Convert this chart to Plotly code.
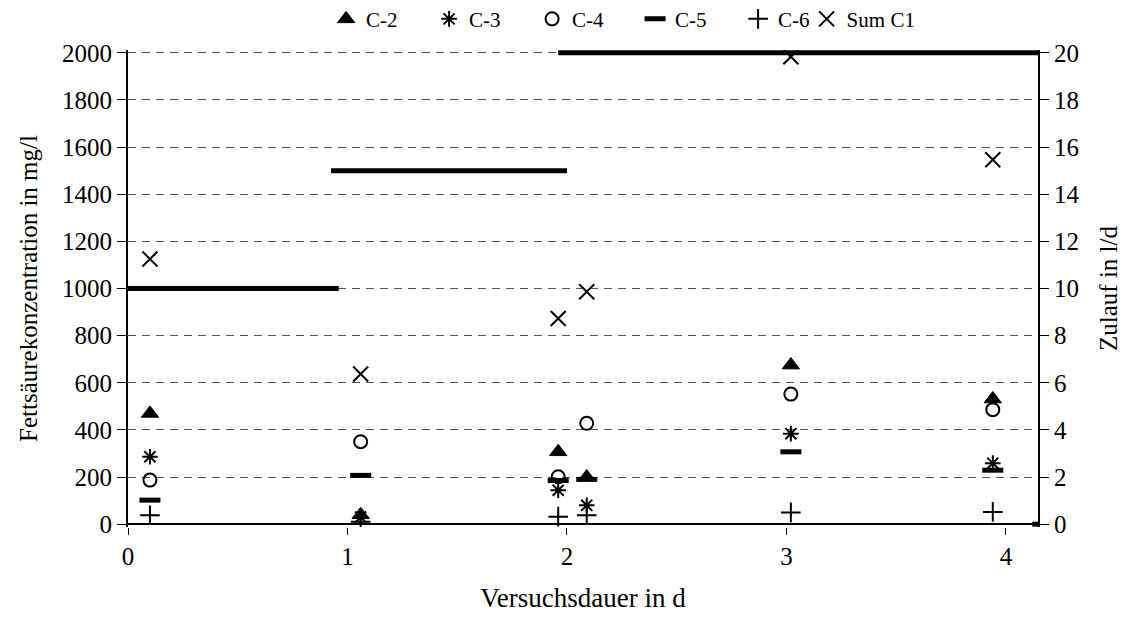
import plotly.graph_objects as go

# Versuchsdauer der Proben in d
days = [0.10, 1.06, 1.96, 2.09, 3.02, 3.94]

# Fettsaeurekonzentration in mg/l
c2 = [470, 40, 307, 200, 675, 531]
c3 = [286, 30, 144, 80, 384, 259]
c4 = [187, 350, 201, 428, 552, 486]
c5 = [102, 207, 185, 190, 307, 229]
c6 = [38, 10, 32, 38, 50, 52]
sum_c1 = [1125, 637, 873, 986, 1983, 1546]

# Zulauf in l/d (Stufen, None trennt die Abschnitte)
feed_x = [0, 0.96, None, 0.925, 2.0, None, 1.96, 4.146, None, 4.12, 4.146]
feed_y = [10, 10, None, 15, 15, None, 20, 20, None, 0, 0]

font_name = "Liberation Serif"
tick_font = dict(family=font_name, size=25, color="black")
title_font = dict(family=font_name, size=25, color="black")
legend_font = dict(family=font_name, size=21, color="black")

fig = go.Figure()

series = [
    ("C-2", c2, "triangle-up", 15, 1, "legend"),
    ("C-3", c3, "asterisk-open", 13, 2, "legend"),
    ("C-4", c4, "circle-open", 13, 2, "legend"),
    ("C-5", c5, "line-ew-open", 15, 5, "legend"),
    ("C-6", c6, "cross-thin-open", 14, 2, "legend"),
    ("Sum C1", sum_c1, "x-thin-open", 15, 2, "legend2"),
]
for name, vals, sym, size, lw, leg in series:
    fig.add_trace(go.Scatter(
        x=days, y=vals, name=name, mode="markers", legend=leg,
        marker=dict(symbol=sym, size=size, color="black",
                    line=dict(color="black", width=lw)),
    ))

fig.add_trace(go.Scatter(
    x=feed_x, y=feed_y, name="Zulauf", mode="lines", yaxis="y2",
    line=dict(color="black", width=5), showlegend=False,
    connectgaps=False,
))

# page body adds 8px, margins are reduced by that
# ranges padded a little so the thick feed line is not cut at 0 and 20
fig.update_layout(
    width=1128, height=623,
    margin=dict(l=120, r=98, t=42, b=104),
    paper_bgcolor="white", plot_bgcolor="white",
    font=dict(family=font_name, size=22, color="black"),
    showlegend=True,
    legend=dict(orientation="h", xref="container", yref="container",
                x=0.282, xanchor="left", y=0.982, yanchor="middle",
                font=legend_font, itemwidth=30, entrywidth=58,
                tracegroupgap=0, bgcolor="rgba(0,0,0,0)"),
    legend2=dict(orientation="h", xref="container", yref="container",
                 x=0.708, xanchor="left", y=0.982, yanchor="middle",
                 font=legend_font, itemwidth=30,
                 bgcolor="rgba(0,0,0,0)"),
    xaxis=dict(
        range=[0, 4.146], tickmode="linear", tick0=0, dtick=1, automargin=False,
        showgrid=False, zeroline=False, showline=False,
        ticks="outside", ticklen=7, tickcolor="black", tickwidth=1,
        tickfont=tick_font,
        title=dict(text="Versuchsdauer in d", standoff=19,
                   font=dict(family=font_name, size=27, color="black")),
    ),
    yaxis=dict(
        range=[-12, 2012], tickmode="linear", tick0=0, dtick=200, automargin=False,
        showgrid=True, gridcolor="#555555", griddash="8px,6px", gridwidth=1,
        zeroline=True, zerolinecolor="black", zerolinewidth=2,
        showline=True, linecolor="black", linewidth=2,
        ticks="outside", ticklen=9, tickcolor="black",
        tickfont=tick_font,
        title=dict(text="Fettsäurekonzentration in mg/l", standoff=17, font=title_font),
    ),
    yaxis2=dict(
        range=[-0.12, 20.12], tickmode="linear", tick0=0, dtick=2, automargin=False,
        overlaying="y", side="right", showgrid=False, zeroline=False,
        showline=True, linecolor="black", linewidth=2,
        ticks="outside", ticklen=9, tickcolor="black",
        tickfont=tick_font,
        title=dict(text="Zulauf in l/d", standoff=21, font=title_font),
    ),
)

fig.write_html("out.html")
